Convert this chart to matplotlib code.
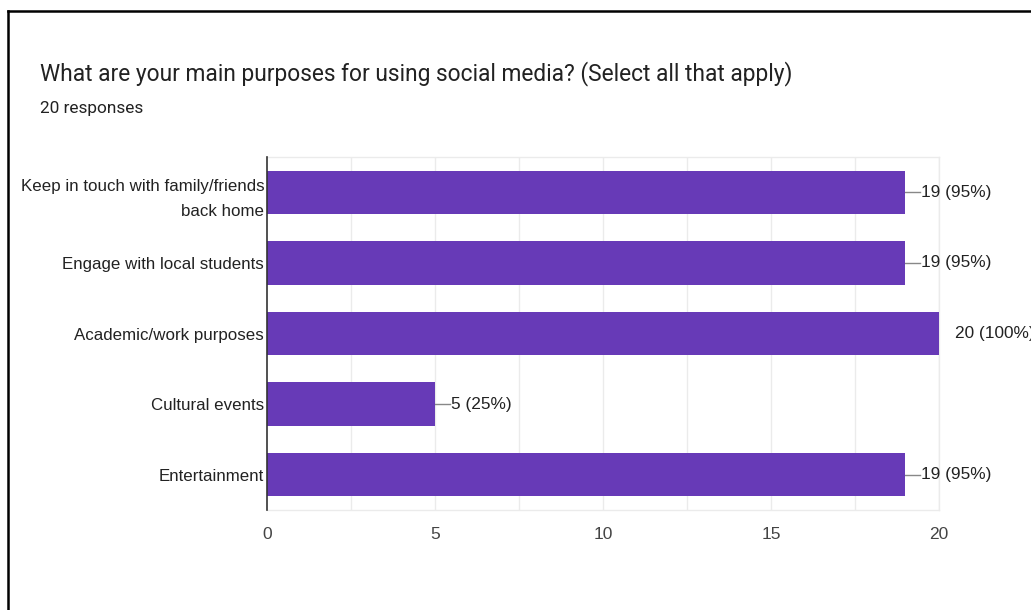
import matplotlib
matplotlib.use("Agg")
import matplotlib.pyplot as plt
from matplotlib.lines import Line2D

categories = ["Keep in touch with family/friends\nback home",
              "Engage with local students",
              "Academic/work purposes",
              "Cultural events",
              "Entertainment"]
counts = [19, 19, 20, 5, 19]
percents = [95, 95, 100, 25, 95]
xticks = [0, 5, 10, 15, 20]

W, H = 1031, 610
fig = plt.figure(figsize=(W / 100, H / 100), dpi=100)
fig.patch.set_facecolor("white")

ax = fig.add_axes([267 / W, 1 - 510 / H, (939 - 267) / W, (510 - 157) / H])

ypos = list(range(len(categories)))
ax.barh(ypos, counts, height=0.615, color="#673ab7", zorder=3)
ax.set_ylim(len(categories) - 0.5, -0.5)
ax.set_xlim(0, 20)

# gridlines every 2.5
for g in [2.5 * i for i in range(1, 9)]:
    ax.axvline(g, color="#ebebeb", lw=1, zorder=1)

for s in ["top", "bottom", "right"]:
    ax.spines[s].set_color("#ebebeb")
    ax.spines[s].set_linewidth(1)
ax.spines["left"].set_color("#333333")
ax.spines["left"].set_linewidth(1.2)
ax.spines["left"].set_zorder(4)

ax.set_yticks(ypos)
ax.set_yticklabels(categories, fontfamily="Liberation Sans", fontsize=12.2,
                   color="#222222", linespacing=1.85)
ax.set_xticks(xticks)
ax.set_xticklabels([str(t) for t in xticks], fontfamily="Liberation Sans",
                   fontsize=12.5, color="#444444")
ax.tick_params(axis="y", length=0, pad=2)
ax.tick_params(axis="x", length=0, pad=12)

px = 20 / (939 - 267)
for y, c, p in zip(ypos, counts, percents):
    ax.plot([c, c + 15 * px], [y, y], color="#888888", lw=1, zorder=2,
            clip_on=True)
    ax.text(c + 16 * px, y, f"{c} ({p}%)", va="center", ha="left",
            fontfamily="Liberation Sans", fontsize=12.4, color="#222222",
            clip_on=False)

fig.text(40 / W, 1 - 74 / H, "What are your main purposes for using social media? (Select all that apply)",
         fontfamily="Roboto", fontsize=16.4, color="#222222", va="center", ha="left")
fig.text(40 / W, 1 - 109 / H, "20 responses", fontfamily="Roboto", fontsize=12.4,
         color="#222222", va="center", ha="left")

# outer frame lines (left and top)
fig.add_artist(Line2D([7.5 / W, 7.5 / W], [0, 1 - 11 / H], color="black", lw=1.8,
                      transform=fig.transFigure))
fig.add_artist(Line2D([7.5 / W, 1], [1 - 11 / H, 1 - 11 / H], color="black", lw=1.8,
                      transform=fig.transFigure))

fig.savefig("out.png", dpi=100, facecolor="white")
